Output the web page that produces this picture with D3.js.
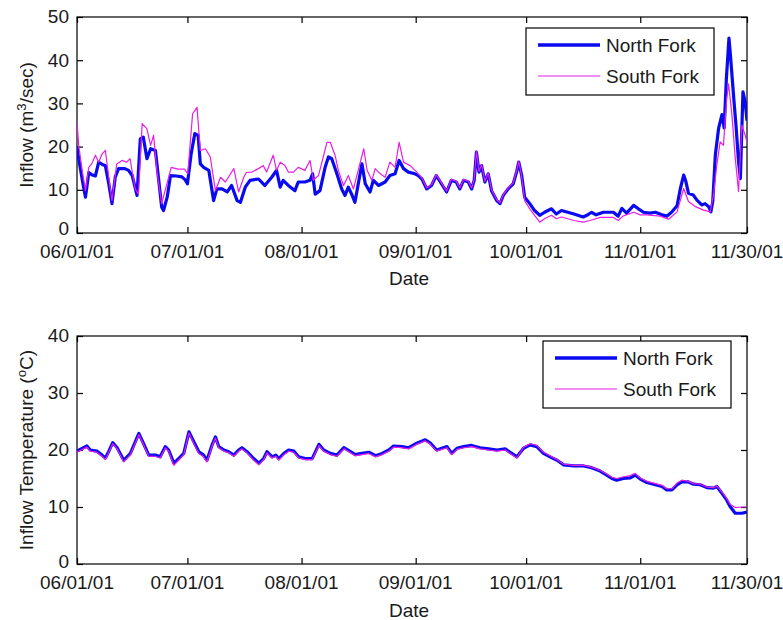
<!DOCTYPE html>
<html>
<head>
<meta charset="utf-8">
<script src="https://cdn.jsdelivr.net/npm/d3@7"></script>
<style>
  html, body { margin: 0; padding: 0; background: #fff; }
  svg text { font-family: "Liberation Sans", Arial, sans-serif; fill: #1a1a1a; }
</style>
</head>
<body>
<svg id="chart" width="783" height="620"></svg>
<script>
// ---- DATA (day offset from 06/01/01, value) ----
const startDate = "2001-06-01";
const endDate = "2001-11-30";
const tickDates = ["2001-06-01","2001-07-01","2001-08-01","2001-09-01","2001-10-01","2001-11-01","2001-11-30"];
const tickLabels = ["06/01/01","07/01/01","08/01/01","09/01/01","10/01/01","11/01/01","11/30/01"];
const seriesNames = ["North Fork", "South Fork"];
const flowTicks = [0,10,20,30,40,50];
const tempTicks = [0,10,20,30,40];

const northFlow = [[0,20],[0.5,17],[1.5,12],[2.3,8.3],[3.2,14],[4,13.5],[5,13.2],[5.9,16.4],[7,15.8],[7.7,15.6],[8.5,12],[9.1,9],[9.5,6.8],[10.4,13],[11.3,14.9],[13,14.9],[14,14.5],[15,13.3],[16.3,8.7],[17.2,21.8],[18,22.2],[19,17.2],[20,19.5],[21.3,19.1],[22.2,12.2],[23,6],[23.5,5.2],[24.5,8.3],[25.4,13.3],[27,13.2],[28.5,13],[29.4,12.3],[30,11.4],[31,18.3],[32,23],[32.9,22.6],[33.5,16],[34.4,15.2],[35.8,14.5],[37.1,7.5],[38,10.2],[39.4,10.2],[40.8,9.5],[42,11],[43.5,7.5],[44.4,7.1],[45.7,10.6],[47,12.2],[49.3,12.5],[51,11],[52.9,12.9],[54.2,14.5],[55.2,10.6],[56,12.2],[57.4,11],[59.2,9.8],[60.1,11.8],[61.9,11.8],[63.3,12.2],[64,13.7],[64.7,9],[66,9.8],[67.4,15.2],[68.3,17.6],[69.2,17.2],[70.6,13.7],[71.9,10.2],[72.8,8.7],[73.7,10.6],[74.6,9],[75.5,7.1],[76.9,13.7],[77.4,16],[78.3,11.4],[79.6,9.5],[80.5,12.2],[81.9,11],[83.7,11.8],[85,13.3],[86.4,13.7],[87.5,16.8],[88.7,14.9],[90,14.1],[91.8,13.7],[92.7,13.3],[93.7,12.5],[95,10.2],[96.3,11],[97.6,13.3],[99,11.4],[100.4,9.5],[101.7,12.2],[103,11.8],[104,10.2],[105,12.2],[106.3,11.8],[107.2,10.2],[107.9,12.2],[108.5,18.7],[109.2,14.1],[109.9,15.6],[110.8,11.8],[111.7,13.7],[112.6,9.8],[114,7.5],[114.9,6.8],[115.8,8.7],[117.1,10.2],[118.5,11.4],[119.4,14.1],[120,16.4],[120.8,13.3],[121.6,8.3],[123,6.8],[124.3,5.2],[125.7,4.1],[127,4.8],[128.9,5.6],[130.2,4.4],[131.6,5.2],[133.3,4.8],[135,4.4],[137.5,3.7],[138.5,4.1],[139.8,4.8],[141,4.2],[143,4.8],[145.7,4.8],[147,3.9],[148,5.7],[149.3,4.6],[151.2,6.4],[152.5,5.6],[153.9,4.8],[155.6,4.6],[157.1,4.8],[158.9,4.2],[160.2,3.9],[161.5,4.8],[163,6.3],[163.9,10.3],[164.8,13.4],[165.4,11.9],[166.1,9.2],[167.4,8.8],[168.4,7.6],[169.7,6.5],[170.6,6.8],[171.6,6.1],[172.2,4.9],[172.7,7.3],[173.4,18.1],[174.3,24.3],[175.2,27.4],[175.8,24.3],[176.4,35.8],[177.1,45.1],[177.5,41.2],[178.4,31.2],[179,25],[179.7,16.5],[180.2,12.6],[180.9,32.7],[181.5,30.4],[182,26]];

const southFlow = [[0,25.7],[0.5,20],[1.5,14],[2.3,9.8],[3.2,15.2],[4,16],[5,18],[5.9,16.4],[6.8,18.3],[7.7,19.1],[9.1,9.8],[9.5,7.5],[10.8,16],[12.2,16.8],[13.5,16.4],[14.4,17.2],[15.8,10.2],[16.7,9],[17.7,25.3],[19,24.1],[20,20.3],[20.8,22.6],[21.7,14.5],[23,6.8],[25.6,15.2],[27.4,14.8],[29.2,14.8],[30.1,13.7],[31.4,27.6],[32.6,29.1],[33.5,19.1],[34.9,19.5],[36.2,17.6],[37.6,9.8],[39,12.9],[40.3,11.8],[42.6,14.9],[43.9,9.5],[45.3,12.9],[46,14],[47.5,14.1],[49.3,14.9],[50.6,15.6],[51.5,14.1],[53.3,18],[54.2,14.5],[55.2,16.4],[56.5,15.6],[57.4,14.1],[58.8,14.1],[60.1,15.2],[61.9,14.5],[63.3,16.8],[64.2,12.2],[65.6,13.3],[67.9,21],[68.8,21],[70.1,18],[71,14.5],[72.4,11],[73.7,13.3],[75.1,10.2],[76.5,14.9],[77.9,19.5],[78.8,14.5],[80.1,12.2],[81,14.9],[82.4,13.7],[83.7,12.9],[85,16.4],[86.4,15.2],[87.5,21],[88.7,16.4],[90.5,15.6],[92.3,14.1],[93.7,12.7],[95,10.4],[96.3,11.2],[97.6,13.5],[99,11.6],[100.4,9.7],[101.7,12.4],[103,12],[104,10.4],[105,12.4],[106.3,12],[107.2,10.4],[107.9,12.4],[108.5,19],[109.2,14.3],[109.9,15.8],[110.8,12],[111.7,13.9],[112.6,10],[114,7.7],[114.9,7],[115.8,8.9],[117.1,10.4],[118.5,11.6],[119.4,14.3],[120,16.6],[120.8,13],[121.6,7.5],[123,5.6],[124.3,4.1],[125.7,2.5],[127,3.3],[128.9,4.1],[130.2,3.3],[131.6,3.7],[133.3,3.3],[135,2.9],[137.5,2.5],[139.4,2.9],[142.1,3.6],[145.7,3.6],[147,2.9],[148.3,3.9],[151.2,4.8],[153,4.2],[154.8,4.2],[158.4,3.9],[160.7,3.2],[163,4.9],[164.8,10.3],[166.1,7.3],[168,6.1],[170.2,5.3],[172,4.9],[172.9,8.8],[173.8,15.7],[174.7,21.1],[175.6,20.3],[176.5,31.2],[177,34.5],[177.9,27.4],[178.8,17.4],[179.7,9.6],[180.6,25],[181.5,22.6],[182,21]];

const northTemp = [[0,19.8],[2.7,20.7],[3.6,20],[5.4,19.8],[6.8,19.1],[7.7,18.6],[8.6,19.7],[9.7,21.3],[10.9,20.4],[12.7,18.2],[14.5,19.4],[16.8,22.9],[18.1,21.1],[19.5,19.1],[21.3,19.1],[22.6,18.8],[24,20.6],[24.9,20],[26.3,17.7],[27.6,18.5],[29,19.4],[30.4,23.2],[31.7,21.5],[33.1,19.7],[34.4,19.1],[35.3,18.2],[36.7,20.9],[37.6,22.3],[38.5,20.6],[39.9,20],[41.2,19.7],[42.6,19.1],[43.9,20],[44.8,20.4],[46.2,19.7],[48,18.5],[49.4,17.7],[50.7,18.5],[51.6,19.7],[53,18.8],[54,19.1],[54.8,18.5],[56.2,19.4],[57.5,20],[58.9,19.8],[60.2,18.8],[62,18.5],[63.9,18.5],[65.7,21],[67,20],[68.8,19.4],[70.6,19.1],[72.5,20.4],[74.3,19.7],[75.6,19.2],[77.4,19.4],[79.3,19.6],[81.1,19],[82.9,19.4],[84.7,20],[86,20.7],[88.3,20.6],[90.1,20.4],[92.3,21.2],[94.6,21.8],[96,21.2],[97.7,20],[99.1,20.3],[100.5,20.6],[101.8,19.4],[103.2,20.3],[105,20.6],[107.2,20.8],[109.5,20.4],[111.8,20.2],[114.1,20],[116.3,20.2],[118.1,19.4],[119.5,18.8],[121.3,20.3],[123.1,20.9],[124.9,20.6],[126.7,19.4],[128.5,18.8],[130.4,18.2],[132.2,17.4],[134.9,17.2],[137.6,17.2],[139.8,16.9],[142.1,16.3],[143.9,15.6],[145.3,15],[146.6,14.7],[148.4,15],[150.3,15.1],[151.6,15.6],[153,14.9],[154.8,14.3],[157.1,13.9],[158.9,13.6],[160.2,13],[161.6,13],[163,13.9],[164.3,14.4],[166.1,14.4],[167.5,14],[169.3,13.9],[171.1,13.4],[172.9,13.3],[173.8,13.6],[175.2,12.4],[176.5,11.2],[177.4,10.1],[178.8,8.9],[180.6,8.9],[182,9.1]];

const southTemp = [[0,19.6],[2.7,20.5],[3.6,19.8],[5.4,19.6],[6.8,18.9],[7.7,18.3],[8.6,19.5],[9.7,21.1],[10.9,20.2],[12.7,17.9],[14.5,19.2],[16.8,22.7],[18.1,20.9],[19.5,18.9],[21.3,18.9],[22.6,18.6],[24,20.4],[24.9,19.8],[26.3,17.3],[27.6,18.2],[29,19.2],[30.4,23],[31.7,21.2],[33.1,19.4],[34.4,18.8],[35.3,17.9],[36.7,20.7],[37.6,22.1],[38.5,20.4],[39.9,19.8],[41.2,19.5],[42.6,18.9],[43.9,19.8],[44.8,20.2],[46.2,19.5],[48,18.2],[49.4,17.4],[50.7,18.3],[51.6,19.5],[53,18.6],[54,18.9],[54.8,18.2],[56.2,19.2],[57.5,19.8],[58.9,19.6],[60.2,18.6],[62,18.3],[63.9,18.3],[65.7,20.8],[67,19.8],[68.8,19.2],[70.6,18.9],[72.5,20.2],[74.3,19.5],[75.6,19],[77.4,19.2],[79.3,19.4],[81.1,18.8],[82.9,19.2],[84.7,19.8],[86,20.5],[88.3,20.4],[90.1,20.2],[92.3,21],[94.6,21.6],[96,21],[97.7,19.8],[99.1,20.1],[100.5,20.4],[101.8,19.2],[103.2,20.1],[105,20.4],[107.2,20.6],[109.5,20.2],[111.8,20],[114.1,19.8],[116.3,20],[118.1,19.2],[119.5,18.6],[121.3,20.5],[123.1,21.1],[124.9,20.8],[126.7,19.6],[128.5,19],[130.4,18.3],[132.2,17.5],[134.9,17.3],[137.6,17.3],[139.8,17],[142.1,16.4],[143.9,15.8],[145.3,15.2],[146.6,15],[148.4,15.3],[150.3,15.5],[151.6,15.9],[153,15.1],[154.8,14.5],[157.1,14.1],[158.9,13.8],[160.2,13.2],[161.6,13.2],[163,14.2],[164.3,14.7],[166.1,14.5],[167.5,14.1],[169.3,14],[171.1,13.5],[172.9,13.4],[173.8,13.7],[175.2,12.6],[176.5,11.5],[177.4,10.5],[178.8,9.9],[180.6,10],[182,10]];

// ---- STYLE / LAYOUT ----
const colors = {north: "#0a0af0", south: "#e61ee6"};
const FONT = 19;
const svg = d3.select("#chart");
const parse = s => new Date(s + "T00:00:00Z");
const start = parse(startDate);
const toDate = d => new Date(start.getTime() + d * 86400000);

function panel(cfg) {
  const {top, bottom, left, right, yMax, yTicks, north, south, legend, ylabel, xTickBase, dateBase, zeroDy} = cfg;
  const x = d3.scaleUtc().domain([start, parse(endDate)]).range([left, right]);
  const y = d3.scaleLinear().domain([0, yMax]).range([bottom, top]);
  const g = svg.append("g");

  g.append("rect").attr("x", left).attr("y", top).attr("width", right - left).attr("height", bottom - top)
    .attr("fill", "#fff").attr("stroke", "#000").attr("stroke-width", 1.2);

  const tv = tickDates.map(parse);
  const fmt = d => tickLabels[tv.findIndex(t => +t === +d)];

  g.append("g").attr("transform", `translate(0,${bottom})`)
    .call(d3.axisBottom(x).tickValues(tv).tickSizeInner(-6).tickSizeOuter(0).tickFormat(""))
    .call(s => s.select(".domain").remove());
  g.append("g").attr("transform", `translate(0,${top})`)
    .call(d3.axisTop(x).tickValues(tv).tickSizeInner(-6).tickSizeOuter(0).tickFormat(""))
    .call(s => s.select(".domain").remove());
  g.append("g").attr("transform", `translate(${left},0)`)
    .call(d3.axisLeft(y).tickValues(yTicks).tickSizeInner(-6).tickSizeOuter(0).tickFormat(""))
    .call(s => s.select(".domain").remove());
  g.append("g").attr("transform", `translate(${right},0)`)
    .call(d3.axisRight(y).tickValues(yTicks).tickSizeInner(-6).tickSizeOuter(0).tickFormat(""))
    .call(s => s.select(".domain").remove());
  g.selectAll(".tick line").attr("stroke", "#000").attr("stroke-width", 1.2);

  g.selectAll(".xl").data(tv).join("text").attr("class", "xl")
    .attr("x", d => x(d)).attr("y", xTickBase).attr("text-anchor", "middle")
    .attr("font-size", FONT).text(fmt);
  g.selectAll(".yl").data(yTicks).join("text").attr("class", "yl")
    .attr("x", left - 8).attr("y", d => y(d)).attr("dy", d => d === 0 ? zeroDy : "0.34em").attr("text-anchor", "end")
    .attr("font-size", FONT).text(d => d);

  const line = d3.line().x(d => x(toDate(d[0]))).y(d => y(d[1]));
  const clipId = "clip" + top;
  svg.append("clipPath").attr("id", clipId).append("rect")
    .attr("x", left).attr("y", top).attr("width", right - left).attr("height", bottom - top);
  const lg = g.append("g").attr("clip-path", `url(#${clipId})`);
  lg.append("path").datum(north).attr("d", line).attr("fill", "none")
    .attr("stroke", colors.north).attr("stroke-width", 3.2).attr("stroke-linejoin", "round");
  lg.append("path").datum(south).attr("d", line).attr("fill", "none")
    .attr("stroke", colors.south).attr("stroke-width", 1.2).attr("stroke-linejoin", "round");

  g.append("text").attr("x", (left + right) / 2 - 3).attr("y", dateBase).attr("text-anchor", "middle")
    .attr("font-size", FONT).text("Date");
  const yt = g.append("text").attr("transform", `translate(33,${(top + bottom) / 2}) rotate(-90)`)
    .attr("text-anchor", "middle").attr("font-size", FONT);
  ylabel(yt);

  const L = legend;
  const lgd = g.append("g");
  lgd.append("rect").attr("x", L.x).attr("y", L.y).attr("width", L.w).attr("height", L.h)
    .attr("fill", "#fff").attr("stroke", "#000").attr("stroke-width", 1.2);
  const rows = [{name: seriesNames[0], c: colors.north, w: 3.6, dy: 17}, {name: seriesNames[1], c: colors.south, w: 1.2, dy: 48}];
  rows.forEach(r => {
    lgd.append("line").attr("x1", L.x + 12).attr("x2", L.x + 74).attr("y1", L.y + r.dy).attr("y2", L.y + r.dy)
      .attr("stroke", r.c).attr("stroke-width", r.w);
    lgd.append("text").attr("x", L.x + 80).attr("y", L.y + r.dy).attr("dy", "0.36em")
      .attr("font-size", FONT).text(r.name);
  });
}

panel({
  top: 17, bottom: 233, left: 77, right: 747, yMax: 50, yTicks: flowTicks,
  north: northFlow, south: southFlow,
  legend: {x: 526, y: 28, w: 188, h: 67},
  xTickBase: 258, dateBase: 285, zeroDy: "0.1em",
  ylabel: t => { t.append("tspan").text("Inflow (m");
    t.append("tspan").attr("font-size", FONT * 0.7).attr("dy", "-0.55em").text("3");
    t.append("tspan").attr("dy", "0.38em").text("/sec)"); }
});

panel({
  top: 336, bottom: 564, left: 77, right: 747, yMax: 40, yTicks: tempTicks,
  north: northTemp, south: southTemp,
  legend: {x: 543, y: 341, w: 188, h: 67},
  xTickBase: 589, dateBase: 617, zeroDy: "0.22em",
  ylabel: t => { t.append("tspan").text("Inflow Temperature (");
    t.append("tspan").attr("font-size", FONT * 0.7).attr("dy", "-0.55em").text("o");
    t.append("tspan").attr("dy", "0.38em").text("C)"); }
});
</script>
</body>
</html>
